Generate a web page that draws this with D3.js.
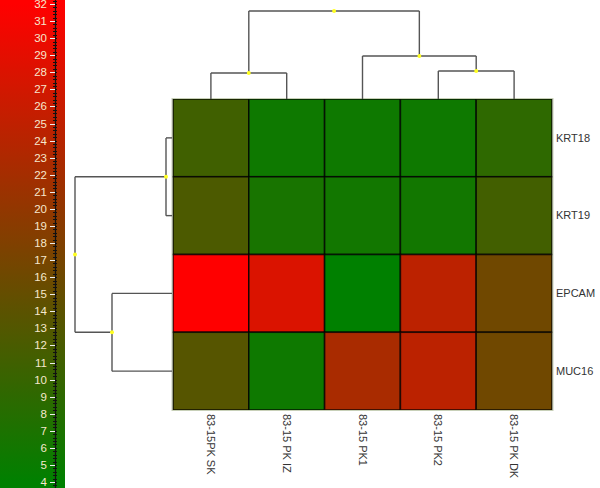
<!DOCTYPE html>
<meta charset="utf-8">
<head>
  <script type="text/javascript" src="https://cdn.jsdelivr.net/npm/d3@7"></script>
</head>
<style type="text/css">
  body {
    margin: 0;
    background: #fff;
    font-family: Arial, "Liberation Sans", sans-serif;
  }
  .link {
    fill: none;
    stroke: #555;
    stroke-width: 1.4px;
  }
  .node {
    fill: #ffff20;
  }
  .lbl {
    font-size: 11px;
    fill: #333;
  }
</style>
<body>
</body>
<script type="text/javascript">

var width = 600,
    height = 488;

// samples (columns) and genes (rows), in dendrogram order
var samples = ["83-15PK SK", "83-15 PK IZ", "83-15 PK1", "83-15 PK2", "83-15 PK DK"];
var genes = ["KRT18", "KRT19", "EPCAM", "MUC16"];

// expression values, one array per gene, in sample order
var KRT18 = [11.0, 5.5, 5.5, 5.5, 9.0];
var KRT19 = [12.3, 6.6, 6.0, 6.0, 11.3];
var EPCAM = [32.0, 27.9, 4.0, 24.6, 16.3];
var MUC16 = [13.4, 5.5, 22.6, 24.5, 16.3];
var values = [KRT18, KRT19, EPCAM, MUC16];

// colour legend range and ticks
var legendMin = 4, legendMax = 32;
var legendTicks = d3.range(4, 33);

// cluster trees with merge heights
var sampleTree = {h: 88, children: [
  {h: 26, children: [{name: "83-15PK SK"}, {name: "83-15 PK IZ"}]},
  {h: 43, children: [{name: "83-15 PK1"},
    {h: 28, children: [{name: "83-15 PK2"}, {name: "83-15 PK DK"}]}]}
]};
var geneTree = {h: 97, children: [
  {h: 6, children: [{name: "KRT18"}, {name: "KRT19"}]},
  {h: 60, children: [{name: "EPCAM"}, {name: "MUC16"}]}
]};

var svg = d3.select("body").append("svg")
    .attr("width", width)
    .attr("height", height);

var color = d3.scaleLinear()
    .domain([legendMin, legendMax])
    .range(["#008000", "#ff0000"])
    .interpolate(d3.interpolateRgb)
    .clamp(true);

var x = d3.scaleBand().domain(samples).range([173, 552]);
var y = d3.scaleBand().domain(genes).range([99, 410]);

// ---- colour legend on the left
var ly = d3.scaleLinear().domain([legendMin, legendMax]).range([482, 4]);

var grad = svg.append("defs").append("linearGradient")
    .attr("id", "lg")
    .attr("gradientUnits", "userSpaceOnUse")
    .attr("x1", 0).attr("x2", 0)
    .attr("y1", ly(legendMin)).attr("y2", ly(legendMax));
d3.range(0, 1.01, 0.1).forEach(function(t) {
  var v = legendMin + t * (legendMax - legendMin);
  grad.append("stop").attr("offset", t).attr("stop-color", color(v));
});

svg.append("rect")
    .attr("x", 0).attr("y", 0)
    .attr("width", 65).attr("height", height)
    .style("fill", "url(#lg)");

var laxis = svg.append("g");
laxis.append("line")
    .attr("x1", 55.5).attr("x2", 55.5)
    .attr("y1", 0).attr("y2", height)
    .style("stroke", "#111").style("stroke-width", 1.2);

laxis.selectAll(".minor")
    .data(d3.range(legendMin * 5 - 3, legendMax * 5 + 2).map(function(d) { return d / 5; }))
  .enter().append("line")
    .attr("x1", 53).attr("x2", 57)
    .attr("y1", function(d) { return Math.round(ly(d)) + 0.5; })
    .attr("y2", function(d) { return Math.round(ly(d)) + 0.5; })
    .style("stroke", "#111").style("stroke-width", 1);

laxis.selectAll(".major")
    .data(legendTicks)
  .enter().append("line")
    .attr("x1", 50).attr("x2", 55)
    .attr("y1", function(d) { return Math.round(ly(d)) + 0.5; })
    .attr("y2", function(d) { return Math.round(ly(d)) + 0.5; })
    .style("stroke", "#eee").style("stroke-width", 1);

laxis.selectAll("text")
    .data(legendTicks)
  .enter().append("text")
    .attr("x", 47)
    .attr("y", function(d) { return ly(d); })
    .attr("dy", "0.35em")
    .attr("text-anchor", "end")
    .style("font-size", "11.5px")
    .style("fill", "#f6e8cc")
    .text(function(d) { return d; });

// ---- heat map cells
var rows = svg.append("g").selectAll("g")
    .data(genes)
  .enter().append("g");

rows.selectAll("rect")
    .data(function(g, i) {
      return samples.map(function(s, j) { return {gene: g, sample: s, v: values[i][j]}; });
    })
  .enter().append("rect")
    .attr("x", function(d) { return x(d.sample); })
    .attr("y", function(d) { return y(d.gene); })
    .attr("width", x.bandwidth())
    .attr("height", y.bandwidth())
    .style("fill", function(d) { return color(d.v); })
    .style("stroke", "rgba(0,0,0,0.75)")
    .style("stroke-width", 1.6);

svg.append("rect")
    .attr("x", 172).attr("y", 98.5)
    .attr("width", 381).attr("height", 312)
    .style("fill", "none")
    .style("stroke", "#c8d0b8")
    .style("stroke-width", 1);

// ---- labels
svg.append("g").selectAll("text")
    .data(genes)
  .enter().append("text")
    .attr("class", "lbl")
    .attr("x", 556)
    .attr("y", function(d) { return y(d) + y.bandwidth() / 2; })
    .attr("dy", "0.35em")
    .text(function(d) { return d; });

svg.append("g").selectAll("text")
    .data(samples)
  .enter().append("text")
    .attr("class", "lbl")
    .attr("transform", function(d) {
      return "translate(" + (x(d) + x.bandwidth() / 2) + ",414) rotate(90)";
    })
    .attr("dy", "0.35em")
    .text(function(d) { return d; });

// ---- dendrograms
function layout(tree, leafPos, hpos, horizontal) {
  var root = d3.hierarchy(tree);
  root.eachAfter(function(n) {
    if (!n.children) {
      n.p = leafPos(n.data.name);
      n.q = hpos(0);
    } else {
      n.p = d3.mean(n.children, function(c) { return c.p; });
      n.q = hpos(n.data.h);
    }
  });
  var pt = horizontal
    ? function(p, q) { return [q, p]; }
    : function(p, q) { return [p, q]; };
  var segs = [];
  root.each(function(n) {
    if (!n.children) return;
    var a = n.children[0].p, b = n.children[n.children.length - 1].p;
    segs.push([pt(a, n.q), pt(b, n.q)]);
    n.children.forEach(function(c) {
      segs.push([pt(c.p, n.q), pt(c.p, c.q)]);
    });
  });
  var nodes = root.descendants().filter(function(n) { return n.children; })
    .map(function(n) { return pt(n.p, n.q); });
  return {segs: segs, nodes: nodes};
}

var colH = d3.scaleLinear().domain([0, 88]).range([99, 11]);
var rowH = d3.scaleLinear().domain([0, 97]).range([172, 75]);

var topTree = layout(sampleTree, function(s) { return x(s) + x.bandwidth() / 2; }, colH, false);
var leftTree = layout(geneTree, function(g) { return y(g) + y.bandwidth() / 2; }, rowH, true);

[topTree, leftTree].forEach(function(t) {
  var g = svg.append("g");
  g.selectAll("line")
      .data(t.segs)
    .enter().append("line")
      .attr("class", "link")
      .attr("x1", function(d) { return d[0][0]; })
      .attr("y1", function(d) { return d[0][1]; })
      .attr("x2", function(d) { return d[1][0]; })
      .attr("y2", function(d) { return d[1][1]; });
  g.selectAll("circle")
      .data(t.nodes)
    .enter().append("circle")
      .attr("class", "node")
      .attr("cx", function(d) { return d[0]; })
      .attr("cy", function(d) { return d[1]; })
      .attr("r", 2);
});

</script>
</html>
